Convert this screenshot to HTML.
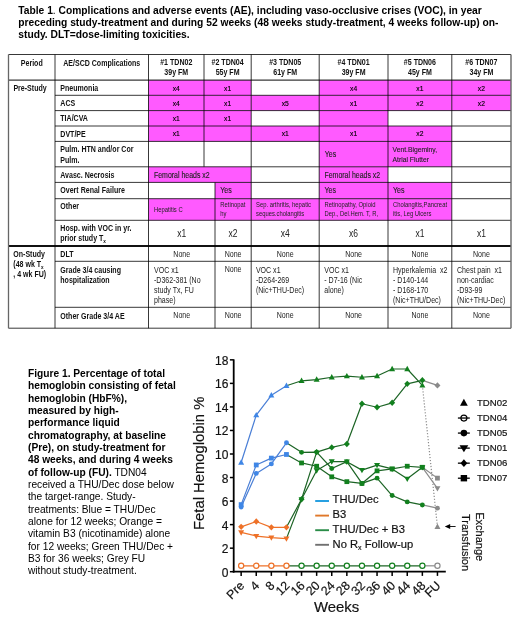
<!DOCTYPE html>
<html><head><meta charset="utf-8"><title>Table 1 and Figure 1</title>
<style>
html,body{margin:0;padding:0;background:#fff;}
body{width:520px;height:623px;overflow:hidden;}
svg{display:block;will-change:transform;font-family:"Liberation Sans",sans-serif;}
.ct{stroke:#111;stroke-width:0.18px;}
</style></head>
<body>
<svg width="520" height="623" viewBox="0 0 520 623">
<rect width="520" height="623" fill="#fff"/>
<text x="18.3" y="14.2" font-size="10.25" font-weight="bold" fill="#000">Table 1<tspan font-weight="normal">.</tspan> Complications and adverse events (AE), including vaso-occlusive crises (VOC), in year</text>
<text x="18.3" y="26.0" font-size="10.25" font-weight="bold" fill="#000">preceding study-treatment and during 52 weeks (48 weeks study-treatment, 4 weeks follow-up) on-</text>
<text x="18.3" y="37.9" font-size="10.25" font-weight="bold" fill="#000">study. DLT=dose-limiting toxicities.</text>
<rect x="148.50" y="80.20" width="55.50" height="15.10" fill="#ff5aff"/>
<rect x="204.00" y="80.20" width="47.20" height="15.10" fill="#ff5aff"/>
<rect x="319.20" y="80.20" width="68.80" height="15.10" fill="#ff5aff"/>
<rect x="388.00" y="80.20" width="63.80" height="15.10" fill="#ff5aff"/>
<rect x="451.80" y="80.20" width="59.20" height="15.10" fill="#ff5aff"/>
<rect x="148.50" y="95.30" width="55.50" height="15.30" fill="#ff5aff"/>
<rect x="204.00" y="95.30" width="47.20" height="15.30" fill="#ff5aff"/>
<rect x="251.20" y="95.30" width="68.00" height="15.30" fill="#ff5aff"/>
<rect x="319.20" y="95.30" width="68.80" height="15.30" fill="#ff5aff"/>
<rect x="388.00" y="95.30" width="63.80" height="15.30" fill="#ff5aff"/>
<rect x="451.80" y="95.30" width="59.20" height="15.30" fill="#ff5aff"/>
<rect x="148.50" y="110.60" width="55.50" height="15.40" fill="#ff5aff"/>
<rect x="204.00" y="110.60" width="47.20" height="15.40" fill="#ff5aff"/>
<rect x="319.20" y="110.60" width="68.80" height="15.40" fill="#ff5aff"/>
<rect x="148.50" y="126.00" width="55.50" height="15.40" fill="#ff5aff"/>
<rect x="204.00" y="126.00" width="47.20" height="15.40" fill="#ff5aff"/>
<rect x="251.20" y="126.00" width="68.00" height="15.40" fill="#ff5aff"/>
<rect x="319.20" y="126.00" width="68.80" height="15.40" fill="#ff5aff"/>
<rect x="388.00" y="126.00" width="63.80" height="15.40" fill="#ff5aff"/>
<rect x="319.20" y="141.40" width="68.80" height="25.40" fill="#ff5aff"/>
<rect x="388.00" y="141.40" width="63.80" height="25.40" fill="#ff5aff"/>
<rect x="148.50" y="166.80" width="102.70" height="15.60" fill="#ff5aff"/>
<rect x="319.20" y="166.80" width="68.80" height="15.60" fill="#ff5aff"/>
<rect x="215.00" y="182.40" width="36.20" height="16.30" fill="#ff5aff"/>
<rect x="319.20" y="182.40" width="68.80" height="16.30" fill="#ff5aff"/>
<rect x="388.00" y="182.40" width="63.80" height="16.30" fill="#ff5aff"/>
<rect x="148.50" y="198.70" width="66.50" height="21.60" fill="#ff5aff"/>
<rect x="215.00" y="198.70" width="36.20" height="21.60" fill="#ff5aff"/>
<rect x="251.20" y="198.70" width="68.00" height="21.60" fill="#ff5aff"/>
<rect x="319.20" y="198.70" width="68.80" height="21.60" fill="#ff5aff"/>
<rect x="388.00" y="198.70" width="63.80" height="21.60" fill="#ff5aff"/>
<line x1="8.50" y1="54.50" x2="511.00" y2="54.50" stroke="#000" stroke-opacity="0.78" stroke-width="1.0"/>
<line x1="8.50" y1="80.20" x2="511.00" y2="80.20" stroke="#000" stroke-opacity="0.78" stroke-width="1.2"/>
<line x1="55.00" y1="95.30" x2="511.00" y2="95.30" stroke="#000" stroke-opacity="0.78" stroke-width="1.0"/>
<line x1="55.00" y1="110.60" x2="511.00" y2="110.60" stroke="#000" stroke-opacity="0.78" stroke-width="1.0"/>
<line x1="55.00" y1="126.00" x2="511.00" y2="126.00" stroke="#000" stroke-opacity="0.78" stroke-width="1.0"/>
<line x1="55.00" y1="141.40" x2="511.00" y2="141.40" stroke="#000" stroke-opacity="0.78" stroke-width="1.0"/>
<line x1="55.00" y1="166.80" x2="511.00" y2="166.80" stroke="#000" stroke-opacity="0.78" stroke-width="1.0"/>
<line x1="55.00" y1="182.40" x2="511.00" y2="182.40" stroke="#000" stroke-opacity="0.78" stroke-width="1.0"/>
<line x1="55.00" y1="198.70" x2="511.00" y2="198.70" stroke="#000" stroke-opacity="0.78" stroke-width="1.0"/>
<line x1="55.00" y1="220.30" x2="511.00" y2="220.30" stroke="#000" stroke-opacity="0.78" stroke-width="1.0"/>
<line x1="8.50" y1="246.00" x2="511.00" y2="246.00" stroke="#111" stroke-width="2.0"/>
<line x1="55.00" y1="261.30" x2="511.00" y2="261.30" stroke="#000" stroke-opacity="0.78" stroke-width="1.0"/>
<line x1="55.00" y1="307.30" x2="511.00" y2="307.30" stroke="#000" stroke-opacity="0.78" stroke-width="1.0"/>
<line x1="8.50" y1="328.20" x2="511.00" y2="328.20" stroke="#000" stroke-opacity="0.78" stroke-width="1.0"/>
<line x1="8.50" y1="54.50" x2="8.50" y2="328.20" stroke="#666" stroke-width="1.3"/>
<line x1="511.00" y1="54.50" x2="511.00" y2="328.20" stroke="#666" stroke-width="1.4"/>
<line x1="55.00" y1="54.50" x2="55.00" y2="328.20" stroke="#000" stroke-opacity="0.78" stroke-width="1.0"/>
<line x1="148.50" y1="54.50" x2="148.50" y2="328.20" stroke="#000" stroke-opacity="0.78" stroke-width="1.0"/>
<line x1="204.00" y1="54.50" x2="204.00" y2="166.80" stroke="#000" stroke-opacity="0.78" stroke-width="1.0"/>
<line x1="215.00" y1="182.40" x2="215.00" y2="328.20" stroke="#000" stroke-opacity="0.78" stroke-width="1.0"/>
<line x1="251.20" y1="54.50" x2="251.20" y2="328.20" stroke="#000" stroke-opacity="0.78" stroke-width="1.0"/>
<line x1="319.20" y1="54.50" x2="319.20" y2="328.20" stroke="#000" stroke-opacity="0.78" stroke-width="1.0"/>
<line x1="388.00" y1="54.50" x2="388.00" y2="328.20" stroke="#000" stroke-opacity="0.78" stroke-width="1.0"/>
<line x1="451.80" y1="54.50" x2="451.80" y2="328.20" stroke="#000" stroke-opacity="0.78" stroke-width="1.0"/>
<text transform="translate(31.75,65.50) scale(0.85,1)" font-size="8.3" font-weight="bold" text-anchor="middle" fill="#111">Period</text>
<text transform="translate(101.75,65.50) scale(0.85,1)" font-size="8.3" font-weight="bold" text-anchor="middle" fill="#111">AE/SCD Complications</text>
<text transform="translate(176.25,65.40) scale(0.85,1)" font-size="8.3" font-weight="bold" text-anchor="middle" fill="#111">#1 TDN02</text>
<text transform="translate(176.25,74.80) scale(0.85,1)" font-size="8.3" font-weight="bold" text-anchor="middle" fill="#111">39y FM</text>
<text transform="translate(227.60,65.40) scale(0.85,1)" font-size="8.3" font-weight="bold" text-anchor="middle" fill="#111">#2 TDN04</text>
<text transform="translate(227.60,74.80) scale(0.85,1)" font-size="8.3" font-weight="bold" text-anchor="middle" fill="#111">55y FM</text>
<text transform="translate(285.20,65.40) scale(0.85,1)" font-size="8.3" font-weight="bold" text-anchor="middle" fill="#111">#3 TDN05</text>
<text transform="translate(285.20,74.80) scale(0.85,1)" font-size="8.3" font-weight="bold" text-anchor="middle" fill="#111">61y FM</text>
<text transform="translate(353.60,65.40) scale(0.85,1)" font-size="8.3" font-weight="bold" text-anchor="middle" fill="#111">#4 TDN01</text>
<text transform="translate(353.60,74.80) scale(0.85,1)" font-size="8.3" font-weight="bold" text-anchor="middle" fill="#111">39y FM</text>
<text transform="translate(419.90,65.40) scale(0.85,1)" font-size="8.3" font-weight="bold" text-anchor="middle" fill="#111">#5 TDN06</text>
<text transform="translate(419.90,74.80) scale(0.85,1)" font-size="8.3" font-weight="bold" text-anchor="middle" fill="#111">45y FM</text>
<text transform="translate(481.40,65.40) scale(0.85,1)" font-size="8.3" font-weight="bold" text-anchor="middle" fill="#111">#6 TDN07</text>
<text transform="translate(481.40,74.80) scale(0.85,1)" font-size="8.3" font-weight="bold" text-anchor="middle" fill="#111">34y FM</text>
<text transform="translate(13.40,91.00) scale(0.85,1)" font-size="8.3" font-weight="bold" text-anchor="start" fill="#111">Pre-Study</text>
<text transform="translate(13.30,257.00) scale(0.85,1)" font-size="8.3" font-weight="bold" text-anchor="start" fill="#111">On-Study</text>
<text transform="translate(13.30,267.20) scale(0.85,1)" font-size="8.3" font-weight="bold" text-anchor="start" fill="#111">(48 wk T<tspan font-size="5.5" dy="1.5">x</tspan></text>
<text transform="translate(13.30,277.40) scale(0.85,1)" font-size="8.3" font-weight="bold" text-anchor="start" fill="#111">, 4 wk FU)</text>
<text transform="translate(60.30,91.00) scale(0.85,1)" font-size="8.3" font-weight="bold" text-anchor="start" fill="#111">Pneumonia</text>
<text transform="translate(60.30,106.00) scale(0.85,1)" font-size="8.3" font-weight="bold" text-anchor="start" fill="#111">ACS</text>
<text transform="translate(60.30,121.30) scale(0.85,1)" font-size="8.3" font-weight="bold" text-anchor="start" fill="#111">TIA/CVA</text>
<text transform="translate(60.30,136.60) scale(0.85,1)" font-size="8.3" font-weight="bold" text-anchor="start" fill="#111">DVT/PE</text>
<text transform="translate(60.30,152.00) scale(0.85,1)" font-size="8.3" font-weight="bold" text-anchor="start" fill="#111">Pulm. HTN and/or Cor</text>
<text transform="translate(60.30,162.80) scale(0.85,1)" font-size="8.3" font-weight="bold" text-anchor="start" fill="#111">Pulm.</text>
<text transform="translate(60.30,177.60) scale(0.85,1)" font-size="8.3" font-weight="bold" text-anchor="start" fill="#111">Avasc. Necrosis</text>
<text transform="translate(60.30,193.00) scale(0.85,1)" font-size="8.3" font-weight="bold" text-anchor="start" fill="#111">Overt Renal Failure</text>
<text transform="translate(60.30,209.00) scale(0.85,1)" font-size="8.3" font-weight="bold" text-anchor="start" fill="#111">Other</text>
<text transform="translate(60.30,231.00) scale(0.85,1)" font-size="8.3" font-weight="bold" text-anchor="start" fill="#111">Hosp. with VOC in yr.</text>
<text transform="translate(60.30,256.80) scale(0.85,1)" font-size="8.3" font-weight="bold" text-anchor="start" fill="#111">DLT</text>
<text transform="translate(60.30,272.60) scale(0.85,1)" font-size="8.3" font-weight="bold" text-anchor="start" fill="#111">Grade 3/4 causing</text>
<text transform="translate(60.30,282.80) scale(0.85,1)" font-size="8.3" font-weight="bold" text-anchor="start" fill="#111">hospitalization</text>
<text transform="translate(60.30,318.60) scale(0.85,1)" font-size="8.3" font-weight="bold" text-anchor="start" fill="#111">Other Grade 3/4 AE</text>
<text transform="translate(60.30,241.40) scale(0.85,1)" font-size="8.3" font-weight="bold" text-anchor="start" fill="#111">prior study T<tspan font-size="5.5" dy="1.5">x</tspan></text>
<text transform="translate(176.25,90.60) scale(0.85,1)" font-size="7.9" stroke="#000" stroke-width="0.15" text-anchor="middle" fill="#000">x4</text>
<text transform="translate(227.60,90.60) scale(0.85,1)" font-size="7.9" stroke="#000" stroke-width="0.15" text-anchor="middle" fill="#000">x1</text>
<text transform="translate(353.60,90.60) scale(0.85,1)" font-size="7.9" stroke="#000" stroke-width="0.15" text-anchor="middle" fill="#000">x4</text>
<text transform="translate(419.90,90.60) scale(0.85,1)" font-size="7.9" stroke="#000" stroke-width="0.15" text-anchor="middle" fill="#000">x1</text>
<text transform="translate(481.40,90.60) scale(0.85,1)" font-size="7.9" stroke="#000" stroke-width="0.15" text-anchor="middle" fill="#000">x2</text>
<text transform="translate(176.25,105.70) scale(0.85,1)" font-size="7.9" stroke="#000" stroke-width="0.15" text-anchor="middle" fill="#000">x4</text>
<text transform="translate(227.60,105.70) scale(0.85,1)" font-size="7.9" stroke="#000" stroke-width="0.15" text-anchor="middle" fill="#000">x1</text>
<text transform="translate(285.20,105.70) scale(0.85,1)" font-size="7.9" stroke="#000" stroke-width="0.15" text-anchor="middle" fill="#000">x5</text>
<text transform="translate(353.60,105.70) scale(0.85,1)" font-size="7.9" stroke="#000" stroke-width="0.15" text-anchor="middle" fill="#000">x1</text>
<text transform="translate(419.90,105.70) scale(0.85,1)" font-size="7.9" stroke="#000" stroke-width="0.15" text-anchor="middle" fill="#000">x2</text>
<text transform="translate(481.40,105.70) scale(0.85,1)" font-size="7.9" stroke="#000" stroke-width="0.15" text-anchor="middle" fill="#000">x2</text>
<text transform="translate(176.25,121.00) scale(0.85,1)" font-size="7.9" stroke="#000" stroke-width="0.15" text-anchor="middle" fill="#000">x1</text>
<text transform="translate(227.60,121.00) scale(0.85,1)" font-size="7.9" stroke="#000" stroke-width="0.15" text-anchor="middle" fill="#000">x1</text>
<text transform="translate(176.25,136.40) scale(0.85,1)" font-size="7.9" stroke="#000" stroke-width="0.15" text-anchor="middle" fill="#000">x1</text>
<text transform="translate(285.20,136.40) scale(0.85,1)" font-size="7.9" stroke="#000" stroke-width="0.15" text-anchor="middle" fill="#000">x1</text>
<text transform="translate(353.60,136.40) scale(0.85,1)" font-size="7.9" stroke="#000" stroke-width="0.15" text-anchor="middle" fill="#000">x1</text>
<text transform="translate(419.90,136.40) scale(0.85,1)" font-size="7.9" stroke="#000" stroke-width="0.15" text-anchor="middle" fill="#000">x2</text>
<text transform="translate(324.80,156.70) scale(0.85,1)" font-size="8.3" stroke="#222" stroke-width="0.12" text-anchor="start" fill="#222">Yes</text>
<text transform="translate(392.60,152.00) scale(0.85,1)" font-size="7.95" stroke="#222" stroke-width="0.12" text-anchor="start" fill="#222">Vent.Bigeminy,</text>
<text transform="translate(392.60,161.60) scale(0.85,1)" font-size="7.95" stroke="#222" stroke-width="0.12" text-anchor="start" fill="#222">Atrial Flutter</text>
<text transform="translate(154.00,177.60) scale(0.85,1)" font-size="8.2" stroke="#222" stroke-width="0.12" text-anchor="start" fill="#222">Femoral heads x2</text>
<text transform="translate(324.50,177.60) scale(0.85,1)" font-size="8.2" stroke="#222" stroke-width="0.12" text-anchor="start" fill="#222">Femoral heads x2</text>
<text transform="translate(220.30,193.20) scale(0.85,1)" font-size="8.3" stroke="#222" stroke-width="0.12" text-anchor="start" fill="#222">Yes</text>
<text transform="translate(324.50,193.20) scale(0.85,1)" font-size="8.3" stroke="#222" stroke-width="0.12" text-anchor="start" fill="#222">Yes</text>
<text transform="translate(393.00,193.20) scale(0.85,1)" font-size="8.3" stroke="#222" stroke-width="0.12" text-anchor="start" fill="#222">Yes</text>
<text transform="translate(154.00,211.80) scale(0.85,1)" font-size="6.9" text-anchor="start" fill="#222">Hepatitis C</text>
<text transform="translate(220.30,207.00) scale(0.85,1)" font-size="6.9" text-anchor="start" fill="#222">Retinopat</text>
<text transform="translate(220.30,215.80) scale(0.85,1)" font-size="6.9" text-anchor="start" fill="#222">hy</text>
<text transform="translate(256.00,207.00) scale(0.85,1)" font-size="6.9" text-anchor="start" fill="#222">Sep. arthritis, hepatic</text>
<text transform="translate(256.00,215.80) scale(0.85,1)" font-size="6.9" text-anchor="start" fill="#222">seques.cholangitis</text>
<text transform="translate(324.50,207.00) scale(0.85,1)" font-size="6.9" text-anchor="start" fill="#222">Retinopathy, Opioid</text>
<text transform="translate(324.50,215.80) scale(0.85,1)" font-size="6.9" text-anchor="start" fill="#222">Dep., Del.Hem. T, R,</text>
<text transform="translate(393.00,207.00) scale(0.85,1)" font-size="6.9" text-anchor="start" fill="#222">Cholangitis,Pancreat</text>
<text transform="translate(393.00,215.80) scale(0.85,1)" font-size="6.9" text-anchor="start" fill="#222">itis, Leg Ulcers</text>
<text transform="translate(181.75,237.20) scale(0.85,1)" font-size="10.0" text-anchor="middle" fill="#222">x1</text>
<text transform="translate(233.10,237.20) scale(0.85,1)" font-size="10.0" text-anchor="middle" fill="#222">x2</text>
<text transform="translate(285.20,237.20) scale(0.85,1)" font-size="10.0" text-anchor="middle" fill="#222">x4</text>
<text transform="translate(353.60,237.20) scale(0.85,1)" font-size="10.0" text-anchor="middle" fill="#222">x6</text>
<text transform="translate(419.90,237.20) scale(0.85,1)" font-size="10.0" text-anchor="middle" fill="#222">x1</text>
<text transform="translate(481.40,237.20) scale(0.85,1)" font-size="10.0" text-anchor="middle" fill="#222">x1</text>
<text transform="translate(181.75,256.80) scale(0.85,1)" font-size="8.3" text-anchor="middle" fill="#222">None</text>
<text transform="translate(181.75,318.30) scale(0.85,1)" font-size="8.3" text-anchor="middle" fill="#222">None</text>
<text transform="translate(233.10,256.80) scale(0.85,1)" font-size="8.3" text-anchor="middle" fill="#222">None</text>
<text transform="translate(233.10,318.30) scale(0.85,1)" font-size="8.3" text-anchor="middle" fill="#222">None</text>
<text transform="translate(285.20,256.80) scale(0.85,1)" font-size="8.3" text-anchor="middle" fill="#222">None</text>
<text transform="translate(285.20,318.30) scale(0.85,1)" font-size="8.3" text-anchor="middle" fill="#222">None</text>
<text transform="translate(353.60,256.80) scale(0.85,1)" font-size="8.3" text-anchor="middle" fill="#222">None</text>
<text transform="translate(353.60,318.30) scale(0.85,1)" font-size="8.3" text-anchor="middle" fill="#222">None</text>
<text transform="translate(419.90,256.80) scale(0.85,1)" font-size="8.3" text-anchor="middle" fill="#222">None</text>
<text transform="translate(419.90,318.30) scale(0.85,1)" font-size="8.3" text-anchor="middle" fill="#222">None</text>
<text transform="translate(481.40,256.80) scale(0.85,1)" font-size="8.3" text-anchor="middle" fill="#222">None</text>
<text transform="translate(481.40,318.30) scale(0.85,1)" font-size="8.3" text-anchor="middle" fill="#222">None</text>
<text transform="translate(233.10,272.40) scale(0.85,1)" font-size="8.3" text-anchor="middle" fill="#222">None</text>
<text transform="translate(154.00,272.60) scale(0.85,1)" font-size="8.3" text-anchor="start" fill="#222">VOC x1</text>
<text transform="translate(154.00,282.60) scale(0.85,1)" font-size="8.3" text-anchor="start" fill="#222">-D362-381 (No</text>
<text transform="translate(154.00,292.60) scale(0.85,1)" font-size="8.3" text-anchor="start" fill="#222">study Tx, FU</text>
<text transform="translate(154.00,302.60) scale(0.85,1)" font-size="8.3" text-anchor="start" fill="#222">phase)</text>
<text transform="translate(255.90,272.60) scale(0.85,1)" font-size="8.3" text-anchor="start" fill="#222">VOC x1</text>
<text transform="translate(255.90,282.60) scale(0.85,1)" font-size="8.3" text-anchor="start" fill="#222">-D264-269</text>
<text transform="translate(255.90,292.60) scale(0.85,1)" font-size="8.3" text-anchor="start" fill="#222">(Nic+THU-Dec)</text>
<text transform="translate(324.30,272.60) scale(0.85,1)" font-size="8.3" text-anchor="start" fill="#222">VOC x1</text>
<text transform="translate(324.30,282.60) scale(0.85,1)" font-size="8.3" text-anchor="start" fill="#222">- D7-16 (Nic</text>
<text transform="translate(324.30,292.60) scale(0.85,1)" font-size="8.3" text-anchor="start" fill="#222">alone)</text>
<text transform="translate(393.00,272.60) scale(0.85,1)" font-size="8.3" text-anchor="start" fill="#222">Hyperkalemia&#160; x2</text>
<text transform="translate(393.00,282.60) scale(0.85,1)" font-size="8.3" text-anchor="start" fill="#222">- D140-144</text>
<text transform="translate(393.00,292.60) scale(0.85,1)" font-size="8.3" text-anchor="start" fill="#222">- D168-170</text>
<text transform="translate(393.00,302.60) scale(0.85,1)" font-size="8.3" text-anchor="start" fill="#222">(Nic+THU/Dec)</text>
<text transform="translate(457.00,272.60) scale(0.85,1)" font-size="8.3" text-anchor="start" fill="#222">Chest pain&#160; x1</text>
<text transform="translate(457.00,282.60) scale(0.85,1)" font-size="8.3" text-anchor="start" fill="#222">non-cardiac</text>
<text transform="translate(457.00,292.60) scale(0.85,1)" font-size="8.3" text-anchor="start" fill="#222">-D93-99</text>
<text transform="translate(457.00,302.60) scale(0.85,1)" font-size="8.3" text-anchor="start" fill="#222">(Nic+THU-Dec)</text>
<text x="28.0" y="377.00" font-size="10.2" font-weight="bold" fill="#000">Figure 1. Percentage of total</text>
<text x="28.0" y="389.33" font-size="10.2" font-weight="bold" fill="#000">hemoglobin consisting of fetal</text>
<text x="28.0" y="401.66" font-size="10.2" font-weight="bold" fill="#000">hemoglobin (HbF%),</text>
<text x="28.0" y="413.99" font-size="10.2" font-weight="bold" fill="#000">measured by high-</text>
<text x="28.0" y="426.32" font-size="10.2" font-weight="bold" fill="#000">performance liquid</text>
<text x="28.0" y="438.65" font-size="10.2" font-weight="bold" fill="#000">chromatography, at baseline</text>
<text x="28.0" y="450.98" font-size="10.2" font-weight="bold" fill="#000">(Pre), on study-treatment for</text>
<text x="28.0" y="463.31" font-size="10.2" font-weight="bold" fill="#000">48 weeks, and during 4 weeks</text>
<text x="28.0" y="475.64" font-size="10.2" fill="#000"><tspan font-weight="bold">of follow-up (FU).</tspan> TDN04</text>
<text x="28.0" y="487.97" font-size="10.2" fill="#000">received a THU/Dec dose below</text>
<text x="28.0" y="500.30" font-size="10.2" fill="#000">the target-range. Study-</text>
<text x="28.0" y="512.63" font-size="10.2" fill="#000">treatments: Blue = THU/Dec</text>
<text x="28.0" y="524.96" font-size="10.2" fill="#000">alone for 12 weeks; Orange =</text>
<text x="28.0" y="537.29" font-size="10.2" fill="#000">vitamin B3 (nicotinamide) alone</text>
<text x="28.0" y="549.62" font-size="10.2" fill="#000">for 12 weeks; Green THU/Dec +</text>
<text x="28.0" y="561.95" font-size="10.2" fill="#000">B3 for 36 weeks; Grey FU</text>
<text x="28.0" y="574.28" font-size="10.2" fill="#000">without study-treatment.</text>
<line x1="233.7" y1="359.34" x2="233.7" y2="572.60" stroke="#000" stroke-width="1.8"/>
<line x1="232.79999999999998" y1="571.7" x2="445.8" y2="571.7" stroke="#000" stroke-width="1.8"/>
<line x1="229.89999999999998" y1="571.70" x2="233.7" y2="571.70" stroke="#000" stroke-width="1.5"/>
<text class="ct" x="228.39999999999998" y="576.70" font-size="12" text-anchor="end" fill="#111">0</text>
<line x1="229.89999999999998" y1="548.16" x2="233.7" y2="548.16" stroke="#000" stroke-width="1.5"/>
<text class="ct" x="228.39999999999998" y="553.16" font-size="12" text-anchor="end" fill="#111">2</text>
<line x1="229.89999999999998" y1="524.62" x2="233.7" y2="524.62" stroke="#000" stroke-width="1.5"/>
<text class="ct" x="228.39999999999998" y="529.62" font-size="12" text-anchor="end" fill="#111">4</text>
<line x1="229.89999999999998" y1="501.08" x2="233.7" y2="501.08" stroke="#000" stroke-width="1.5"/>
<text class="ct" x="228.39999999999998" y="506.08" font-size="12" text-anchor="end" fill="#111">6</text>
<line x1="229.89999999999998" y1="477.54" x2="233.7" y2="477.54" stroke="#000" stroke-width="1.5"/>
<text class="ct" x="228.39999999999998" y="482.54" font-size="12" text-anchor="end" fill="#111">8</text>
<line x1="229.89999999999998" y1="454.00" x2="233.7" y2="454.00" stroke="#000" stroke-width="1.5"/>
<text class="ct" x="228.39999999999998" y="459.00" font-size="12" text-anchor="end" fill="#111">10</text>
<line x1="229.89999999999998" y1="430.46" x2="233.7" y2="430.46" stroke="#000" stroke-width="1.5"/>
<text class="ct" x="228.39999999999998" y="435.46" font-size="12" text-anchor="end" fill="#111">12</text>
<line x1="229.89999999999998" y1="406.92" x2="233.7" y2="406.92" stroke="#000" stroke-width="1.5"/>
<text class="ct" x="228.39999999999998" y="411.92" font-size="12" text-anchor="end" fill="#111">14</text>
<line x1="229.89999999999998" y1="383.38" x2="233.7" y2="383.38" stroke="#000" stroke-width="1.5"/>
<text class="ct" x="228.39999999999998" y="388.38" font-size="12" text-anchor="end" fill="#111">16</text>
<line x1="229.89999999999998" y1="359.84" x2="233.7" y2="359.84" stroke="#000" stroke-width="1.5"/>
<text class="ct" x="228.39999999999998" y="364.84" font-size="12" text-anchor="end" fill="#111">18</text>
<line x1="241.15" y1="571.7" x2="241.15" y2="575.90" stroke="#000" stroke-width="1.5"/>
<text class="ct" transform="translate(245.15,586.30) rotate(-45)" font-size="12.4" text-anchor="end" fill="#111">Pre</text>
<line x1="256.25" y1="571.7" x2="256.25" y2="575.90" stroke="#000" stroke-width="1.5"/>
<text class="ct" transform="translate(260.25,586.30) rotate(-45)" font-size="12.4" text-anchor="end" fill="#111">4</text>
<line x1="271.35" y1="571.7" x2="271.35" y2="575.90" stroke="#000" stroke-width="1.5"/>
<text class="ct" transform="translate(275.35,586.30) rotate(-45)" font-size="12.4" text-anchor="end" fill="#111">8</text>
<line x1="286.45" y1="571.7" x2="286.45" y2="575.90" stroke="#000" stroke-width="1.5"/>
<text class="ct" transform="translate(290.45,586.30) rotate(-45)" font-size="12.4" text-anchor="end" fill="#111">12</text>
<line x1="301.55" y1="571.7" x2="301.55" y2="575.90" stroke="#000" stroke-width="1.5"/>
<text class="ct" transform="translate(305.55,586.30) rotate(-45)" font-size="12.4" text-anchor="end" fill="#111">16</text>
<line x1="316.65" y1="571.7" x2="316.65" y2="575.90" stroke="#000" stroke-width="1.5"/>
<text class="ct" transform="translate(320.65,586.30) rotate(-45)" font-size="12.4" text-anchor="end" fill="#111">20</text>
<line x1="331.75" y1="571.7" x2="331.75" y2="575.90" stroke="#000" stroke-width="1.5"/>
<text class="ct" transform="translate(335.75,586.30) rotate(-45)" font-size="12.4" text-anchor="end" fill="#111">24</text>
<line x1="346.85" y1="571.7" x2="346.85" y2="575.90" stroke="#000" stroke-width="1.5"/>
<text class="ct" transform="translate(350.85,586.30) rotate(-45)" font-size="12.4" text-anchor="end" fill="#111">28</text>
<line x1="361.95" y1="571.7" x2="361.95" y2="575.90" stroke="#000" stroke-width="1.5"/>
<text class="ct" transform="translate(365.95,586.30) rotate(-45)" font-size="12.4" text-anchor="end" fill="#111">32</text>
<line x1="377.05" y1="571.7" x2="377.05" y2="575.90" stroke="#000" stroke-width="1.5"/>
<text class="ct" transform="translate(381.05,586.30) rotate(-45)" font-size="12.4" text-anchor="end" fill="#111">36</text>
<line x1="392.15" y1="571.7" x2="392.15" y2="575.90" stroke="#000" stroke-width="1.5"/>
<text class="ct" transform="translate(396.15,586.30) rotate(-45)" font-size="12.4" text-anchor="end" fill="#111">40</text>
<line x1="407.25" y1="571.7" x2="407.25" y2="575.90" stroke="#000" stroke-width="1.5"/>
<text class="ct" transform="translate(411.25,586.30) rotate(-45)" font-size="12.4" text-anchor="end" fill="#111">44</text>
<line x1="422.35" y1="571.7" x2="422.35" y2="575.90" stroke="#000" stroke-width="1.5"/>
<text class="ct" transform="translate(426.35,586.30) rotate(-45)" font-size="12.4" text-anchor="end" fill="#111">48</text>
<line x1="437.45" y1="571.7" x2="437.45" y2="575.90" stroke="#000" stroke-width="1.5"/>
<text class="ct" transform="translate(441.45,586.30) rotate(-45)" font-size="12.4" text-anchor="end" fill="#111">FU</text>
<text class="ct" x="336.6" y="612.2" font-size="14.9" text-anchor="middle" fill="#111">Weeks</text>
<text class="ct" transform="translate(204.0,463.3) rotate(-90)" font-size="14.8" text-anchor="middle" fill="#111">Fetal Hemoglobin %</text>
<polyline points="241.15,462.47 256.25,415.16 271.35,395.27 286.45,385.73" fill="none" stroke="#4a7fd6" stroke-width="1.2" stroke-linejoin="round"/>
<polyline points="286.45,385.73 301.55,380.79 316.65,379.61 331.75,377.26 346.85,376.20 361.95,377.26 377.05,376.08 392.15,369.02 407.25,369.02 422.35,385.38" fill="none" stroke="#1c6425" stroke-width="1.2" stroke-linejoin="round"/>
<polyline points="422.35,385.38 437.45,526.86" fill="none" stroke="#8a8a8a" stroke-width="1.2" stroke-linejoin="round" stroke-dasharray="1.2,1.8"/>
<polyline points="241.15,565.82 256.25,565.82 271.35,565.82 286.45,565.82" fill="none" stroke="#ee7128" stroke-width="1.2" stroke-linejoin="round"/>
<polyline points="286.45,565.82 301.55,565.82 316.65,565.82 331.75,565.82 346.85,565.82 361.95,565.82 377.05,565.82 392.15,565.82 407.25,565.82 422.35,565.82" fill="none" stroke="#1c6425" stroke-width="1.2" stroke-linejoin="round"/>
<polyline points="422.35,565.82 437.45,565.82" fill="none" stroke="#8a8a8a" stroke-width="1.2" stroke-linejoin="round"/>
<polyline points="241.15,506.97 256.25,473.42 271.35,463.89 286.45,442.82" fill="none" stroke="#4a7fd6" stroke-width="1.2" stroke-linejoin="round"/>
<polyline points="286.45,442.82 301.55,452.35 316.65,452.12 331.75,468.48 346.85,461.65 361.95,483.43 377.05,478.13 392.15,495.55 407.25,501.90 422.35,504.96" fill="none" stroke="#1c6425" stroke-width="1.2" stroke-linejoin="round"/>
<polyline points="422.35,504.96 437.45,508.14" fill="none" stroke="#8a8a8a" stroke-width="1.2" stroke-linejoin="round"/>
<polyline points="241.15,504.61 256.25,464.95 271.35,458.12 286.45,454.47" fill="none" stroke="#4a7fd6" stroke-width="1.2" stroke-linejoin="round"/>
<polyline points="286.45,454.47 301.55,462.95 316.65,466.24 331.75,476.83 346.85,481.66 361.95,483.43 377.05,470.83 392.15,468.95 407.25,466.24 422.35,467.30" fill="none" stroke="#1c6425" stroke-width="1.2" stroke-linejoin="round"/>
<polyline points="422.35,467.30 437.45,478.13" fill="none" stroke="#8a8a8a" stroke-width="1.2" stroke-linejoin="round"/>
<polyline points="241.15,532.39 256.25,536.04 271.35,537.57 286.45,538.63" fill="none" stroke="#ee7128" stroke-width="1.2" stroke-linejoin="round"/>
<polyline points="286.45,538.63 301.55,499.31 316.65,470.48 331.75,461.53 346.85,461.65 361.95,470.12 377.05,465.06 392.15,468.95 407.25,478.83 422.35,467.30" fill="none" stroke="#1c6425" stroke-width="1.2" stroke-linejoin="round"/>
<polyline points="422.35,467.30 437.45,488.37" fill="none" stroke="#8a8a8a" stroke-width="1.2" stroke-linejoin="round"/>
<polyline points="241.15,526.86 256.25,521.56 271.35,527.33 286.45,527.33" fill="none" stroke="#ee7128" stroke-width="1.2" stroke-linejoin="round"/>
<polyline points="286.45,527.33 301.55,499.20 316.65,452.12 331.75,447.41 346.85,444.00 361.95,403.74 377.05,407.27 392.15,402.80 407.25,383.85 422.35,380.32" fill="none" stroke="#1c6425" stroke-width="1.2" stroke-linejoin="round"/>
<polyline points="422.35,380.32 437.45,385.38" fill="none" stroke="#8a8a8a" stroke-width="1.2" stroke-linejoin="round"/>
<path d="M241.15,459.23 L244.15,464.63 L238.15,464.63 Z" fill="#3f86e6"/>
<path d="M256.25,411.92 L259.25,417.32 L253.25,417.32 Z" fill="#3f86e6"/>
<path d="M271.35,392.03 L274.35,397.43 L268.35,397.43 Z" fill="#3f86e6"/>
<path d="M286.45,382.49 L289.45,387.89 L283.45,387.89 Z" fill="#3f86e6"/>
<path d="M301.55,377.55 L304.55,382.95 L298.55,382.95 Z" fill="#12801e"/>
<path d="M316.65,376.37 L319.65,381.77 L313.65,381.77 Z" fill="#12801e"/>
<path d="M331.75,374.02 L334.75,379.42 L328.75,379.42 Z" fill="#12801e"/>
<path d="M346.85,372.96 L349.85,378.36 L343.85,378.36 Z" fill="#12801e"/>
<path d="M361.95,374.02 L364.95,379.42 L358.95,379.42 Z" fill="#12801e"/>
<path d="M377.05,372.84 L380.05,378.24 L374.05,378.24 Z" fill="#12801e"/>
<path d="M392.15,365.78 L395.15,371.18 L389.15,371.18 Z" fill="#12801e"/>
<path d="M407.25,365.78 L410.25,371.18 L404.25,371.18 Z" fill="#12801e"/>
<path d="M422.35,382.14 L425.35,387.54 L419.35,387.54 Z" fill="#12801e"/>
<path d="M437.45,523.62 L440.45,529.02 L434.45,529.02 Z" fill="#8a8a8a"/>
<circle cx="241.15" cy="565.82" r="2.60" fill="#fff" stroke="#ee7128" stroke-width="1.2"/>
<circle cx="256.25" cy="565.82" r="2.60" fill="#fff" stroke="#ee7128" stroke-width="1.2"/>
<circle cx="271.35" cy="565.82" r="2.60" fill="#fff" stroke="#ee7128" stroke-width="1.2"/>
<circle cx="286.45" cy="565.82" r="2.60" fill="#fff" stroke="#ee7128" stroke-width="1.2"/>
<circle cx="301.55" cy="565.82" r="2.60" fill="#fff" stroke="#12801e" stroke-width="1.2"/>
<circle cx="316.65" cy="565.82" r="2.60" fill="#fff" stroke="#12801e" stroke-width="1.2"/>
<circle cx="331.75" cy="565.82" r="2.60" fill="#fff" stroke="#12801e" stroke-width="1.2"/>
<circle cx="346.85" cy="565.82" r="2.60" fill="#fff" stroke="#12801e" stroke-width="1.2"/>
<circle cx="361.95" cy="565.82" r="2.60" fill="#fff" stroke="#12801e" stroke-width="1.2"/>
<circle cx="377.05" cy="565.82" r="2.60" fill="#fff" stroke="#12801e" stroke-width="1.2"/>
<circle cx="392.15" cy="565.82" r="2.60" fill="#fff" stroke="#12801e" stroke-width="1.2"/>
<circle cx="407.25" cy="565.82" r="2.60" fill="#fff" stroke="#12801e" stroke-width="1.2"/>
<circle cx="422.35" cy="565.82" r="2.60" fill="#fff" stroke="#12801e" stroke-width="1.2"/>
<circle cx="437.45" cy="565.82" r="2.60" fill="#fff" stroke="#8a8a8a" stroke-width="1.2"/>
<circle cx="241.15" cy="506.97" r="2.45" fill="#3f86e6"/>
<circle cx="256.25" cy="473.42" r="2.45" fill="#3f86e6"/>
<circle cx="271.35" cy="463.89" r="2.45" fill="#3f86e6"/>
<circle cx="286.45" cy="442.82" r="2.45" fill="#3f86e6"/>
<circle cx="301.55" cy="452.35" r="2.45" fill="#12801e"/>
<circle cx="316.65" cy="452.12" r="2.45" fill="#12801e"/>
<circle cx="331.75" cy="468.48" r="2.45" fill="#12801e"/>
<circle cx="346.85" cy="461.65" r="2.45" fill="#12801e"/>
<circle cx="361.95" cy="483.43" r="2.45" fill="#12801e"/>
<circle cx="377.05" cy="478.13" r="2.45" fill="#12801e"/>
<circle cx="392.15" cy="495.55" r="2.45" fill="#12801e"/>
<circle cx="407.25" cy="501.90" r="2.45" fill="#12801e"/>
<circle cx="422.35" cy="504.96" r="2.45" fill="#12801e"/>
<circle cx="437.45" cy="508.14" r="2.45" fill="#8a8a8a"/>
<rect x="238.75" y="502.21" width="4.80" height="4.80" fill="#3f86e6"/>
<rect x="253.85" y="462.55" width="4.80" height="4.80" fill="#3f86e6"/>
<rect x="268.95" y="455.72" width="4.80" height="4.80" fill="#3f86e6"/>
<rect x="284.05" y="452.07" width="4.80" height="4.80" fill="#3f86e6"/>
<rect x="299.15" y="460.55" width="4.80" height="4.80" fill="#12801e"/>
<rect x="314.25" y="463.84" width="4.80" height="4.80" fill="#12801e"/>
<rect x="329.35" y="474.43" width="4.80" height="4.80" fill="#12801e"/>
<rect x="344.45" y="479.26" width="4.80" height="4.80" fill="#12801e"/>
<rect x="359.55" y="481.03" width="4.80" height="4.80" fill="#12801e"/>
<rect x="374.65" y="468.43" width="4.80" height="4.80" fill="#12801e"/>
<rect x="389.75" y="466.55" width="4.80" height="4.80" fill="#12801e"/>
<rect x="404.85" y="463.84" width="4.80" height="4.80" fill="#12801e"/>
<rect x="419.95" y="464.90" width="4.80" height="4.80" fill="#12801e"/>
<rect x="435.05" y="475.73" width="4.80" height="4.80" fill="#8a8a8a"/>
<path d="M241.15,535.63 L244.15,530.23 L238.15,530.23 Z" fill="#ee7128"/>
<path d="M256.25,539.28 L259.25,533.88 L253.25,533.88 Z" fill="#ee7128"/>
<path d="M271.35,540.81 L274.35,535.41 L268.35,535.41 Z" fill="#ee7128"/>
<path d="M286.45,541.87 L289.45,536.47 L283.45,536.47 Z" fill="#ee7128"/>
<path d="M301.55,502.55 L304.55,497.15 L298.55,497.15 Z" fill="#12801e"/>
<path d="M316.65,473.72 L319.65,468.32 L313.65,468.32 Z" fill="#12801e"/>
<path d="M331.75,464.77 L334.75,459.37 L328.75,459.37 Z" fill="#12801e"/>
<path d="M346.85,464.89 L349.85,459.49 L343.85,459.49 Z" fill="#12801e"/>
<path d="M361.95,473.36 L364.95,467.96 L358.95,467.96 Z" fill="#12801e"/>
<path d="M377.05,468.30 L380.05,462.90 L374.05,462.90 Z" fill="#12801e"/>
<path d="M392.15,472.19 L395.15,466.79 L389.15,466.79 Z" fill="#12801e"/>
<path d="M407.25,482.07 L410.25,476.67 L404.25,476.67 Z" fill="#12801e"/>
<path d="M422.35,470.54 L425.35,465.14 L419.35,465.14 Z" fill="#12801e"/>
<path d="M437.45,491.61 L440.45,486.21 L434.45,486.21 Z" fill="#8a8a8a"/>
<path d="M241.15,523.66 L244.15,526.86 L241.15,530.06 L238.15,526.86 Z" fill="#ee7128"/>
<path d="M256.25,518.36 L259.25,521.56 L256.25,524.76 L253.25,521.56 Z" fill="#ee7128"/>
<path d="M271.35,524.13 L274.35,527.33 L271.35,530.53 L268.35,527.33 Z" fill="#ee7128"/>
<path d="M286.45,524.13 L289.45,527.33 L286.45,530.53 L283.45,527.33 Z" fill="#ee7128"/>
<path d="M301.55,496.00 L304.55,499.20 L301.55,502.40 L298.55,499.20 Z" fill="#12801e"/>
<path d="M316.65,448.92 L319.65,452.12 L316.65,455.32 L313.65,452.12 Z" fill="#12801e"/>
<path d="M331.75,444.21 L334.75,447.41 L331.75,450.61 L328.75,447.41 Z" fill="#12801e"/>
<path d="M346.85,440.80 L349.85,444.00 L346.85,447.20 L343.85,444.00 Z" fill="#12801e"/>
<path d="M361.95,400.54 L364.95,403.74 L361.95,406.94 L358.95,403.74 Z" fill="#12801e"/>
<path d="M377.05,404.07 L380.05,407.27 L377.05,410.47 L374.05,407.27 Z" fill="#12801e"/>
<path d="M392.15,399.60 L395.15,402.80 L392.15,406.00 L389.15,402.80 Z" fill="#12801e"/>
<path d="M407.25,380.65 L410.25,383.85 L407.25,387.05 L404.25,383.85 Z" fill="#12801e"/>
<path d="M422.35,377.12 L425.35,380.32 L422.35,383.52 L419.35,380.32 Z" fill="#12801e"/>
<path d="M437.45,382.18 L440.45,385.38 L437.45,388.58 L434.45,385.38 Z" fill="#8a8a8a"/>
<line x1="315.2" y1="501.00" x2="329.0" y2="501.00" stroke="#1d9be0" stroke-width="1.9"/>
<text class="ct" x="332.6" y="503.30" font-size="11.2" fill="#111">THU/Dec</text>
<line x1="315.2" y1="515.60" x2="329.0" y2="515.60" stroke="#e0782a" stroke-width="1.9"/>
<text class="ct" x="332.6" y="518.17" font-size="11.2" fill="#111">B3</text>
<line x1="315.2" y1="530.20" x2="329.0" y2="530.20" stroke="#2a8c48" stroke-width="1.9"/>
<text class="ct" x="332.6" y="533.04" font-size="11.2" fill="#111">THU/Dec + B3</text>
<line x1="315.2" y1="544.80" x2="329.0" y2="544.80" stroke="#707070" stroke-width="1.9"/>
<text class="ct" x="332.6" y="547.91" font-size="11.2" fill="#111">No R<tspan font-size="7" dy="2">x</tspan><tspan dy="-2"> Follow-up</tspan></text>
<path d="M463.90,398.79 L467.80,405.81 L460.00,405.81 Z" fill="#000"/>
<text class="ct" x="477.0" y="405.80" font-size="9.6" fill="#111">TDN02</text>
<line x1="457.9" y1="418.04" x2="469.8" y2="418.04" stroke="#000" stroke-width="1.3"/>
<circle cx="463.90" cy="418.04" r="3.00" fill="none" stroke="#000" stroke-width="1.2"/>
<text class="ct" x="477.0" y="420.84" font-size="9.6" fill="#111">TDN04</text>
<line x1="457.9" y1="433.08" x2="469.8" y2="433.08" stroke="#000" stroke-width="1.3"/>
<circle cx="463.90" cy="433.08" r="3.30" fill="#000"/>
<text class="ct" x="477.0" y="435.88" font-size="9.6" fill="#111">TDN05</text>
<line x1="457.9" y1="448.12" x2="469.8" y2="448.12" stroke="#000" stroke-width="1.3"/>
<path d="M463.90,452.32 L468.30,445.32 L459.50,445.32 Z" fill="#000"/>
<text class="ct" x="477.0" y="450.92" font-size="9.6" fill="#111">TDN01</text>
<line x1="457.9" y1="463.16" x2="469.8" y2="463.16" stroke="#000" stroke-width="1.3"/>
<path d="M463.90,459.26 L467.30,463.16 L463.90,467.06 L460.50,463.16 Z" fill="#000"/>
<text class="ct" x="477.0" y="465.96" font-size="9.6" fill="#111">TDN06</text>
<line x1="457.9" y1="478.20" x2="469.8" y2="478.20" stroke="#000" stroke-width="1.3"/>
<rect x="460.70" y="475.00" width="6.40" height="6.40" fill="#000"/>
<text class="ct" x="477.0" y="481.00" font-size="9.6" fill="#111">TDN07</text>
<line x1="449" y1="526.5" x2="455.6" y2="526.5" stroke="#000" stroke-width="0.9"/>
<path d="M444.8,526.5 L450.2,524.0 L450.2,529.0 Z" fill="#000"/>
<text class="ct" transform="translate(476.2,512.2) rotate(90)" font-size="11" fill="#111">Exchange</text>
<text class="ct" transform="translate(461.6,514.0) rotate(90)" font-size="11" fill="#111">Transfusion</text>
</svg>
</body></html>
